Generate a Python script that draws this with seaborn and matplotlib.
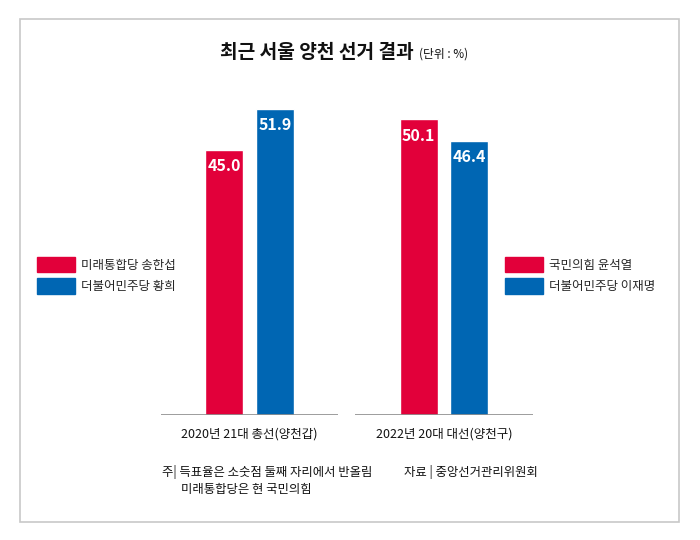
import matplotlib as mpl
import matplotlib.pyplot as plt
import numpy as np
import pandas as pd
import seaborn as sns
from matplotlib.patches import Patch, Rectangle

mpl.use("agg")

# data
elections = ["2020년 21대 총선(양천갑)", "2022년 20대 대선(양천구)"]
camp = ["보수", "진보"]
conservative_votes = [45.0, 50.1]
progressive_votes = [51.9, 46.4]
left_legend = ["미래통합당 송한섭", "더불어민주당 황희"]
right_legend = ["국민의힘 윤석열", "더불어민주당 이재명"]

RED = "#E2003A"
BLUE = "#0066B3"
W, H = 700, 540


def px(x, y):
    # pixel position (from top-left) -> figure fraction
    return x / W, 1 - y / H


sns.set_theme(style="white")
plt.rcParams["font.family"] = ["Noto Sans CJK KR", "DejaVu Sans"]

data = pd.DataFrame(
    {
        "선거": elections * 2,
        "진영": [camp[0]] * 2 + [camp[1]] * 2,
        "득표율": conservative_votes + progressive_votes,
    }
)

fig = plt.figure(figsize=(7, 5.4), dpi=100)
ax = fig.add_axes([152.5 / W, 125 / H, 388.7 / W, 330.4 / H])

sns.barplot(
    data=data,
    x="선거",
    y="득표율",
    hue="진영",
    palette=[RED, BLUE],
    width=0.52,
    gap=0.25,
    saturation=1,
    legend=False,
    ax=ax,
)

# value labels inside the top of each bar
for cont in ax.containers:
    for bar in cont:
        h = bar.get_height()
        ax.text(
            bar.get_x() + bar.get_width() / 2,
            h - 2.75,
            f"{h:.1f}",
            ha="center",
            va="center",
            color="white",
            fontsize=11.5,
            fontweight="bold",
        )

# separate baseline under each group
for i in range(len(elections)):
    ax.hlines(0, i - 0.456, i + 0.456, color="#8c8c8c", lw=1.2, zorder=3)

ax.set_xlim(-0.5, 1.5)
ax.set_ylim(0, 56)
ax.set_xlabel("")
ax.set_ylabel("")
ax.set_yticks([])
ax.tick_params(axis="x", length=0, pad=9, labelsize=9.0)
for lbl in ax.get_xticklabels():
    lbl.set_color("#111111")
sns.despine(ax=ax, left=True, bottom=True)

# legends outside the plot area
for labels, anchor in [(left_legend, px(37, 257)), (right_legend, px(505, 257))]:
    handles = [Patch(color=RED), Patch(color=BLUE)]
    fig.legend(
        handles,
        labels,
        loc="upper left",
        bbox_to_anchor=anchor,
        frameon=False,
        fontsize=9.0,
        handlelength=3.0,
        handleheight=1.5,
        handletextpad=0.55,
        labelspacing=0.5,
        borderpad=0,
        borderaxespad=0,
    )

# title
fig.text(*px(220, 53), "최근 서울 양천 선거 결과", ha="left", va="center",
         fontsize=13.8, fontweight="bold", color="#111111")
fig.text(*px(419, 54), "(단위 : %)", ha="left", va="center", fontsize=8.5,
         color="#111111")

# footnotes
fig.text(*px(162, 472), "주| 득표율은 소숫점 둘째 자리에서 반올림", ha="left",
         va="center", fontsize=8.9, color="#111111")
fig.text(*px(181, 489), "미래통합당은 현 국민의힘", ha="left", va="center",
         fontsize=8.9, color="#111111")
fig.text(*px(404, 472), "자료 | 중앙선거관리위원회", ha="left", va="center",
         fontsize=8.9, color="#111111")

# outer frame
x0, y0 = px(19.5, 521.5)
x1, y1 = px(679, 19.5)
fig.add_artist(Rectangle((x0, y0), x1 - x0, y1 - y0, transform=fig.transFigure,
                         fill=False, edgecolor="#c8c8c8", lw=1.2))

plt.savefig("out.png", dpi=100)
